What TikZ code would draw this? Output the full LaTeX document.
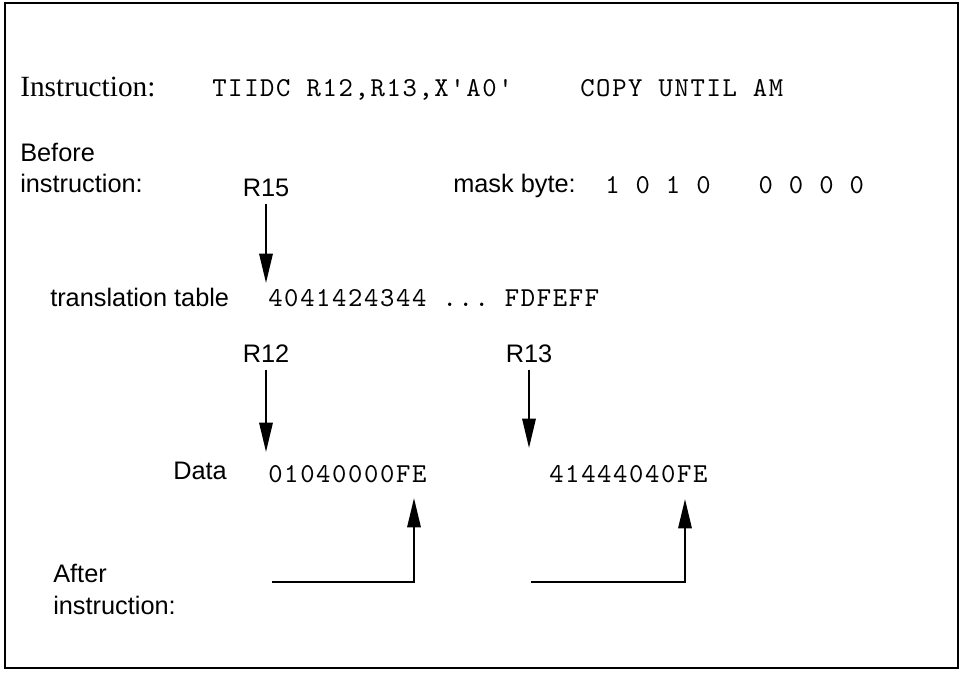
\documentclass[tikz,border=0pt]{standalone}
\usepackage{fontspec}
\setmainfont{Liberation Serif}
\setsansfont{Liberation Sans}
\setmonofont{lmmono10-regular.otf}[LetterSpace=6.0]
\usetikzlibrary{arrows.meta,positioning}

\begin{document}
\begin{tikzpicture}[x=0.75pt, y=-0.75pt,
    >={Triangle[length=22pt,width=10pt]},
    lbl/.style={font=\sffamily\fontsize{19}{22}\selectfont, inner sep=0pt, anchor=base west},
    reg/.style={font=\sffamily\fontsize{19}{22}\selectfont, inner sep=0pt, outer sep=6pt, anchor=base},
    code/.style={font=\ttfamily\fontsize{20.5}{24}\selectfont, inner sep=0pt, anchor=base west},
    ptr/.style={->, line width=1.6pt}]
  \useasboundingbox (0,0) rectangle (962,672);
  % Frame
  \draw[line width=1.6pt] (5,3) rectangle (958,668);

  % Instruction line
  \node[font=\rmfamily\fontsize{22}{26}\selectfont, inner sep=0pt, anchor=base west] (instr) at (20,96) {Instruction:};
  \node[code] (op) at (212,96) {TIIDC R12,R13,X'A0'};
  \node[code] (cmt) at (580,96) {COPY UNTIL AM};

  % Before instruction: R15 points into the translation table
  \node[lbl] (before) at (20,161) {Before};
  \node[lbl] (beforeb) at (20,192) {instruction:};
  \node[reg] (r15) at (266,196) {R15};
  \node[lbl] (mask) at (453,192) {mask byte:};
  \node[code] (bits) at (605,193) {1 0 1 0\ \ \ 0 0 0 0};

  \node[lbl] (ttl) at (50,306) {translation table};
  \node[code] (ttv) at (268,306) {4041424344 ... FDFEFF};
  \coordinate (t15) at (266,283);
  \draw[ptr] (r15) -- (t15);

  % R12 and R13 point into the data
  \node[reg] (r12) at (266,362) {R12};
  \node[reg] (r13) at (529,362) {R13};
  \coordinate (t12) at (266,452);
  \coordinate (t13) at (529,448);
  \draw[ptr] (r12) -- (t12);
  \draw[ptr] (r13) -- (t13);

  \node[lbl] (data) at (173,479) {Data};
  \node[code] (d1) at (268,482) {01040000FE};
  \node[code] (d2) at (549,482) {41444040FE};

  % After instruction
  \node[lbl] (after) at (53,582) {After};
  \node[lbl] (afterb) at (53,614) {instruction:};
  \coordinate (a1) at (272,582);
  \coordinate (u1) at (414,498);
  \coordinate (a2) at (531,582);
  \coordinate (u2) at (685,499);
  \draw[ptr] (a1) -| (u1);
  \draw[ptr] (a2) -| (u2);
\end{tikzpicture}
\end{document}
